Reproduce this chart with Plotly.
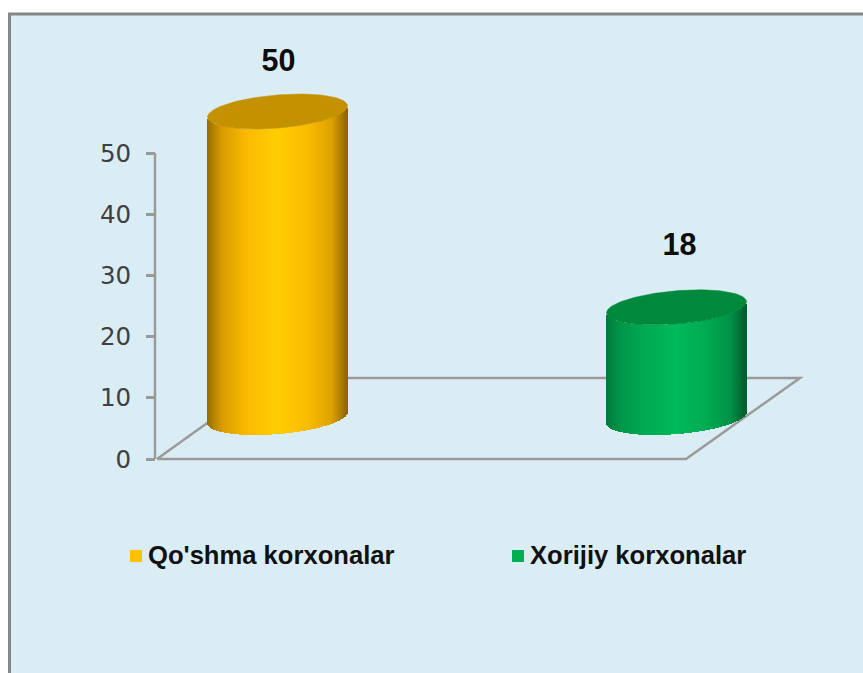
import numpy as np
import plotly.graph_objects as go

# ---- data ----
categories = ["Qo'shma korxonalar", "Xorijiy korxonalar"]
values = [50, 18]
tick_values = [0, 10, 20, 30, 40, 50]
tick_labels = ["0", "10", "20", "30", "40", "50"]

# ---- layout constants ----
W, H = 863, 673
PX_PER_UNIT_Y = 6.12
ZERO_PX_Y = 459
CAT0_PX, CAT1_PX = 277.5, 676.5
PX_PER_CAT = CAT1_PX - CAT0_PX


def dx(px):
    return (px - CAT0_PX) / PX_PER_CAT


def dy(py):
    return (ZERO_PX_Y - py) / PX_PER_UNIT_Y


HALF_W = 70 / PX_PER_CAT
SEMI_B = 16.6 / PX_PER_UNIT_Y
SKEW = 5.6 / PX_PER_UNIT_Y
DEPTH = 41.5 / PX_PER_UNIT_Y
LABEL_X = [dx(278.5), dx(679.5)]
LABEL_Y = [dy(63), dy(247)]
LEGEND_X = [dx(136), dx(518)]
LEGEND_TEXT_X = [dx(148), dx(530)]
LEGEND_Y = dy(556)
LEGEND_TEXT_Y = dy(558)

STOPS = [-1, -0.8, -0.45, 0.0, 0.45, 0.78, 1]
SIDE_COLORS = [
    [(150, 108, 0), (214, 155, 0), (250, 185, 0), (255, 206, 0), (250, 188, 0), (222, 162, 0), (140, 102, 0)],
    [(0, 122, 60), (0, 150, 74), (0, 170, 84), (0, 186, 90), (0, 170, 82), (0, 145, 70), (0, 92, 44)],
]
TOP_COLORS = ["#c49200", "#00883c"]
LEGEND_COLORS = ["#ffc000", "#00b050"]


def side_color(u, rgb):
    c = [np.interp(u, STOPS, [p[i] for p in rgb]) for i in range(3)]
    return "rgb(%d,%d,%d)" % tuple(c)


fig = go.Figure()

N = 140
for i, (cat, val) in enumerate(zip(categories, values)):
    u = (np.arange(N) + 0.5) / N * 2 - 1
    xs = i + u * HALF_W
    base = DEPTH - (SEMI_B * np.sqrt(1 - u ** 2) - SKEW * u)
    fig.add_trace(go.Bar(
        x=xs, y=[val] * N, base=base,
        width=[2 * HALF_W / N * 1.15] * N,
        marker=dict(color=[side_color(k, SIDE_COLORS[i]) for k in u], line=dict(width=0)),
        hoverinfo="skip", showlegend=False, name=cat,
    ))
    t = np.linspace(0, 2 * np.pi, 181)
    fig.add_trace(go.Scatter(
        x=i + HALF_W * np.cos(t),
        y=val + DEPTH - SEMI_B * np.sin(t) + SKEW * np.cos(t),
        mode="lines", fill="toself", fillcolor=TOP_COLORS[i],
        line=dict(color=TOP_COLORS[i], width=0.5),
        hoverinfo="skip", showlegend=False,
    ))
    fig.add_trace(go.Scatter(
        x=[LABEL_X[i]], y=[LABEL_Y[i]], mode="text", text=[str(val)],
        textposition="middle center",
        textfont=dict(family="Liberation Sans", size=30.5, color="#0d0d0d", weight="bold"),
        hoverinfo="skip", showlegend=False,
    ))
    fig.add_trace(go.Scatter(
        x=[LEGEND_X[i]], y=[LEGEND_Y], mode="markers",
        marker=dict(symbol="square", size=12, color=LEGEND_COLORS[i]),
        hoverinfo="skip", showlegend=False,
    ))
    fig.add_trace(go.Scatter(
        x=[LEGEND_TEXT_X[i]], y=[LEGEND_TEXT_Y], mode="text", text=[cat],
        textposition="middle right",
        textfont=dict(family="Liberation Sans", size=25.6, color="#111111", weight="bold"),
        hoverinfo="skip", showlegend=False,
    ))

GRAY = "#9a9a9a"
line = dict(color=GRAY, width=2.5)
shapes = [
    dict(type="rect", xref="paper", yref="paper", x0=9.5 / W, x1=1.02, y0=-0.02, y1=1 - 14 / H,
         fillcolor="#dbedf4", line=dict(color="#868686", width=3), layer="below"),
    dict(type="line", xref="x", yref="y", x0=dx(155), x1=dx(155), y0=0, y1=50, line=line, layer="below"),
    dict(type="path", xref="x", yref="y",
         path="M %f,0 L %f,0 L %f,%f L %f,%f L %f,0" % (
             dx(157), dx(686), dx(800), dy(378), dx(270), dy(378), dx(157)),
         line=line, layer="below"),
]

fig.update_layout(
    width=W, height=H, autosize=False,
    margin=dict(l=0, r=0, t=0, b=0),
    paper_bgcolor="white", plot_bgcolor="rgba(0,0,0,0)",
    barmode="overlay", bargap=0, showlegend=False, shapes=shapes,
    xaxis=dict(range=[dx(0), dx(W)], visible=False, fixedrange=True),
    yaxis=dict(
        range=[dy(H), dy(0)], tickmode="array", tickvals=tick_values, ticktext=tick_labels,
        anchor="free", position=155 / W, ticks="outside", ticklen=9, tickwidth=2.5, tickcolor=GRAY,
        ticklabelstandoff=10,
        showgrid=False, zeroline=False, showline=False, fixedrange=True,
        tickfont=dict(family="DejaVu Sans", size=24.5, color="#404040"),
    ),
)
fig.write_html(
    "out.html",
    config=dict(displayModeBar=False),
    post_script="document.body.style.margin='0';document.documentElement.style.overflow='hidden';",
)
